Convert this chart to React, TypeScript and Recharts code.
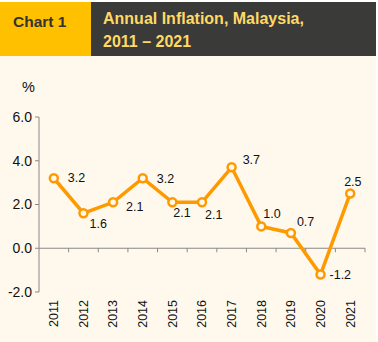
import { LineChart, Line, XAxis, YAxis, ReferenceLine } from "recharts";

const years = ["2011", "2012", "2013", "2014", "2015", "2016", "2017", "2018", "2019", "2020", "2021"];
const inflation = [3.2, 1.6, 2.1, 3.2, 2.1, 2.1, 3.7, 1.0, 0.7, -1.2, 2.5];
const yTicks = [-2, 0, 2, 4, 6];

// label nudges (dx, dy) per point, relative to the marker
const labelShift: [number, number][] = [
  [14, 0], [6, 11], [13, 5], [14, 1], [1, 11], [3, 13],
  [11, -7], [2, -12], [6, -11], [9, 0], [-6, -12],
];

const data = years.map((year, i) => ({ year, value: inflation[i] }));

const FONT = "'Liberation Sans', Arial, sans-serif";
const ORANGE = "#FF9900";
const CREAM = "#FFF9ED";

const ValueLabel = (props: any) => {
  const { x, y, value, index } = props;
  const [dx, dy] = labelShift[index] || [8, 0];
  return (
    <text x={x + dx} y={y + dy} dominantBaseline="central" textAnchor="start" fontSize={12.5} fill="#111" fontFamily={FONT}>
      {Number(value).toFixed(1)}
    </text>
  );
};

const YearTick = (props: any) => {
  const { x, y, payload } = props;
  return (
    <text x={x} y={y} dy="0.35em" textAnchor="end" transform={`rotate(-90, ${x}, ${y})`} fontSize={12.5} fill="#111" fontFamily={FONT}>
      {payload.value}
    </text>
  );
};

// zero line with small downward ticks at the category boundaries
const ZeroAxis = (props: any) => {
  const { x1, y1, x2 } = props;
  const step = (x2 - x1) / years.length;
  return (
    <g>
      <line x1={x1} y1={y1} x2={x2} y2={y1} stroke="#888" strokeWidth={1} />
      {years.map((_, i) => (
        <line key={i} x1={x1 + step * (i + 1)} y1={y1} x2={x1 + step * (i + 1)} y2={y1 + 4} stroke="#888" strokeWidth={1} />
      ))}
    </g>
  );
};

export default function App() {
  return (
    <div style={{ position: "relative", width: 376, height: 342, fontFamily: FONT }}>
      <style>{"body{margin:0;background:#fff}"}</style>
      <div style={{ position: "absolute", top: 2, left: 0, width: 91, height: 54, background: "#FFC000" }}>
        <div style={{ position: "absolute", left: 13, top: 11, fontSize: 15.5, fontWeight: "bold", color: "#333" }}>Chart 1</div>
      </div>
      <div style={{ position: "absolute", top: 2, left: 91, width: 285, height: 54, background: "#3A3A38" }}>
        <div style={{ position: "absolute", left: 12, top: 5, fontSize: 16, fontWeight: "bold", color: "#FFD966", lineHeight: "23px" }}>
          Annual Inflation, Malaysia,
          <br />
          2011 – 2021
        </div>
      </div>
      <div style={{ position: "absolute", top: 56, left: 0, width: 376, height: 286, background: CREAM }}>
        <div style={{ position: "absolute", left: 22, top: 23, fontSize: 14.5, color: "#111" }}>%</div>
        <LineChart width={376} height={286} data={data} margin={{ top: 61, right: 11, left: 0, bottom: 20 }}>
          <XAxis
            dataKey="year"
            scale="band"
            axisLine={false}
            tickLine={false}
            tickSize={6}
            tickMargin={2}
            height={30}
            interval={0}
            tick={<YearTick />}
          />
          <YAxis
            domain={[-2, 6]}
            ticks={yTicks}
            width={39}
            tickSize={4}
            tickMargin={3}
            axisLine={{ stroke: "#888" }}
            tickLine={{ stroke: "#888" }}
            tick={{ fontSize: 14, fill: "#111", fontFamily: FONT }}
            tickFormatter={(v: number) => v.toFixed(1)}
          />
          <ReferenceLine y={0} shape={<ZeroAxis />} />
          <Line
            type="linear"
            dataKey="value"
            stroke={ORANGE}
            strokeWidth={3.5}
            dot={{ r: 4, fill: CREAM, stroke: ORANGE, strokeWidth: 2.5 }}
            label={<ValueLabel />}
            isAnimationActive={false}
          />
        </LineChart>
      </div>
    </div>
  );
}
